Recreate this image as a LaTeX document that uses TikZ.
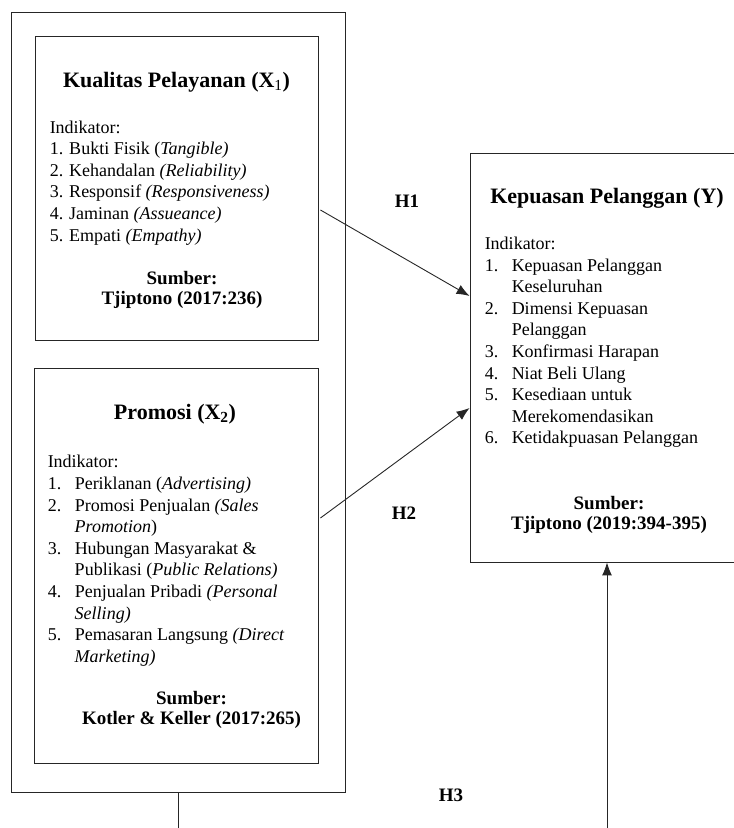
\documentclass[tikz,border=0pt]{standalone}
\usepackage{fontspec}
\setmainfont{Liberation Serif}
\usetikzlibrary{positioning,arrows.meta}

\newcommand{\butir}[1]{\makebox[27pt][l]{#1.}}
\newcommand{\lanjut}{\hspace*{27pt}}

\begin{document}
\begin{tikzpicture}[x=1pt, y=1pt,
  kotak/.style={rectangle, draw=black!85, line width=0.9pt, inner sep=0pt},
  judul/.style={font=\fontsize{22}{26}\selectfont\bfseries, anchor=base, inner sep=0pt},
  isi/.style={font=\fontsize{18}{21.6}\selectfont, align=left, anchor=base west, inner sep=0pt},
  sumber/.style={font=\fontsize{19}{20}\selectfont\bfseries, align=center, anchor=base, inner sep=0pt},
  hipotesis/.style={font=\fontsize{19}{20}\selectfont\bfseries, anchor=base, inner sep=0pt},
  line/.style={draw=black!85, line width=0.9pt, -{Latex[length=13pt,width=10pt]}}]

  \useasboundingbox (0,0) rectangle (734,828);
  \clip (0,0) rectangle (734,828);

  % kotak variabel
  \node[kotak, minimum width=334pt, minimum height=780pt] (luar) at (178,426) {};
  \node[kotak, minimum width=283pt, minimum height=304pt] (kualitas) at (176.5,640) {};
  \node[kotak, minimum width=284pt, minimum height=395pt] (promosi) at (176,262.5) {};
  \node[kotak, minimum width=274pt, minimum height=409pt] (kepuasan) at (607,470.5) {};

  % X1 (base = baris terakhir)
  \node[judul] (kualitas-judul) at ([yshift=-52pt]kualitas.north) {Kualitas Pelayanan (X\textsubscript{\mdseries 1})};
  \node[isi] (kualitas-isi) at ([xshift=15pt,yshift=-205.5pt]kualitas.north west) {Indikator:\\
    1. Bukti Fisik (\textit{Tangible)}\\
    2. Kehandalan \textit{(Reliability)}\\
    3. Responsif \textit{(Responsiveness)}\\
    4. Jaminan \textit{(Assueance)}\\
    5. Empati \textit{(Empathy)}};
  \node[sumber] (kualitas-sumber) at ([xshift=5.5pt,yshift=-269pt]kualitas.north) {Sumber:\\ Tjiptono (2017:236)};

  % X2
  \node[judul] (promosi-judul) at ([xshift=-1pt,yshift=-52pt]promosi.north) {Promosi (X\textsubscript{2})};
  \node[isi] (promosi-isi) at ([xshift=14pt,yshift=-294.8pt]promosi.north west) {Indikator:\\
    \butir{1}Periklanan (\textit{Advertising)}\\
    \butir{2}Promosi Penjualan \textit{(Sales}\\
    \lanjut\textit{Promotion})\\
    \butir{3}Hubungan Masyarakat \&\\
    \lanjut Publikasi (\textit{Public Relations)}\\
    \butir{4}Penjualan Pribadi \textit{(Personal}\\
    \lanjut\textit{Selling)}\\
    \butir{5}Pemasaran Langsung \textit{(Direct}\\
    \lanjut\textit{Marketing)}};
  \node[sumber] (promosi-sumber) at ([xshift=15.5pt,yshift=-357pt]promosi.north) {Sumber:\\ Kotler \& Keller (2017:265)};

  % Y
  \node[judul] (kepuasan-judul) at ([yshift=-51pt]kepuasan.north) {Kepuasan Pelanggan (Y)};
  \node[isi] (kepuasan-isi) at ([xshift=15pt,yshift=-291.4pt]kepuasan.north west) {Indikator:\\
    \butir{1}Kepuasan Pelanggan\\
    \lanjut Keseluruhan\\
    \butir{2}Dimensi Kepuasan\\
    \lanjut Pelanggan\\
    \butir{3}Konfirmasi Harapan\\
    \butir{4}Niat Beli Ulang\\
    \butir{5}Kesediaan untuk\\
    \lanjut Merekomendasikan\\
    \butir{6}Ketidakpuasan Pelanggan};
  \node[sumber] (kepuasan-sumber) at ([xshift=2pt,yshift=-377pt]kepuasan.north) {Sumber:\\ Tjiptono (2019:394-395)};

  % hipotesis
  \node[hipotesis] (h1) at (407,620) {H1};
  \node[hipotesis] (h2) at (404,308) {H2};
  \node[hipotesis] (h3) at (451,26) {H3};

  \coordinate (tepikiri) at (178,0);
  \coordinate (tepikanan) at (607,0);

  \draw [line] ([xshift=2pt,yshift=-22pt]kualitas.east) -- ([yshift=61.5pt]kepuasan.west);
  \draw [line] ([xshift=2pt,yshift=47.5pt]promosi.east) -- ([yshift=-50.5pt]kepuasan.west);
  \draw [draw=black!85, line width=0.9pt] (luar.south) -- (tepikiri);
  \draw [line] (tepikanan) -- (kepuasan.south);
\end{tikzpicture}
\end{document}
